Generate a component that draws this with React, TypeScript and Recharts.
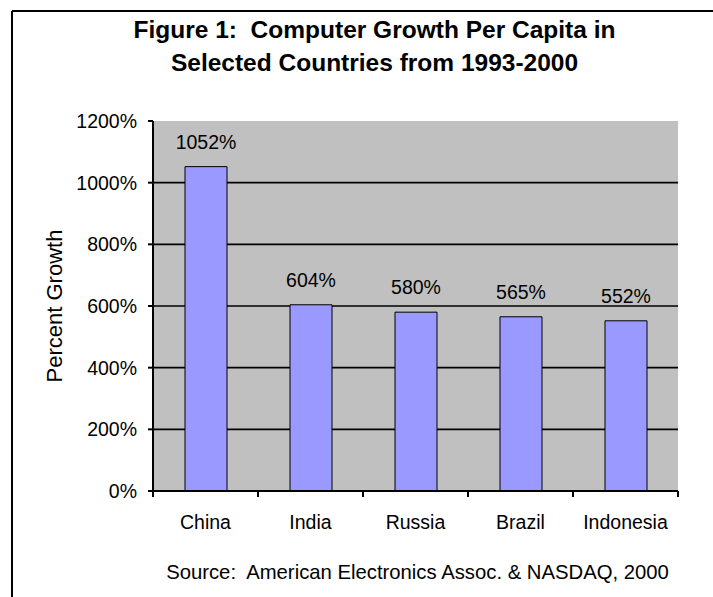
import { BarChart, Bar, XAxis, YAxis, CartesianGrid, LabelList } from 'recharts';

const countries = ['China', 'India', 'Russia', 'Brazil', 'Indonesia'];
const growth = [1052, 604, 580, 565, 552];
const yTicks = [0, 200, 400, 600, 800, 1000, 1200];
const gridValues = [200, 400, 600, 800, 1000];

const titleLines = ['Figure 1:  Computer Growth Per Capita in', 'Selected Countries from 1993-2000'];
const yLabel = 'Percent Growth';
const sourceText = 'Source:  American Electronics Assoc. & NASDAQ, 2000';

const W = 713;
const H = 597;
const FONT = '"Liberation Sans", Arial, Helvetica, sans-serif';
const X_TICK_SIZE = 6;
const X_TICK_MARGIN = 18;
const PLOT_LEFT = 153;
const PLOT_RIGHT = 678;

const data = countries.map((country, i) => ({ country, growth: growth[i] }));

// category labels centred, tick marks on the category boundaries
const CategoryTick = (props: any) => {
  const { x, y, payload, index, visibleTicksCount } = props;
  const half = payload.offset ?? (PLOT_RIGHT - PLOT_LEFT) / countries.length / 2;
  const axisY = y - X_TICK_SIZE - X_TICK_MARGIN;
  const last = index === (visibleTicksCount ?? countries.length) - 1;
  return (
    <g>
      <line x1={x - half} x2={x - half} y1={axisY} y2={axisY + X_TICK_SIZE} stroke="#000" strokeWidth={2} />
      {last && <line x1={x + half} x2={x + half} y1={axisY} y2={axisY + X_TICK_SIZE} stroke="#000" strokeWidth={2} />}
      <text x={x} y={y} dy="0.71em" textAnchor="middle" fontSize={19.5} fill="#000" fontFamily={FONT}>
        {payload.value}
      </text>
    </g>
  );
};

export default function App() {
  return (
    <div style={{ position: 'absolute', left: 0, top: 0, width: W, height: H, background: '#fff', fontFamily: FONT }}>
      <BarChart
        width={W}
        height={H}
        data={data}
        margin={{ top: 121, right: 35, bottom: 76, left: 53 }}
      >
        <CartesianGrid
          vertical={false}
          horizontalValues={gridValues}
          stroke="#000"
          strokeWidth={1.6}
          fill="#C0C0C0"
          fillOpacity={1}
        />
        <Bar dataKey="growth" fill="#9999FF" stroke="#000" strokeWidth={1} barSize={42} isAnimationActive={false}>
          <LabelList
            dataKey="growth"
            position="top"
            offset={18}
            formatter={(v: any) => `${v}%`}
            fill="#000"
            stroke="none"
            fontSize={19.5}
            fontFamily={FONT}
          />
        </Bar>
        <XAxis
          dataKey="country"
          height={30}
          interval={0}
          axisLine={{ stroke: '#000', strokeWidth: 2 }}
          tickLine={false}
          tickSize={X_TICK_SIZE}
          tickMargin={X_TICK_MARGIN}
          tick={<CategoryTick />}
        />
        <XAxis
          xAxisId="top"
          orientation="top"
          dataKey="country"
          height={0}
          tick={false}
          tickLine={false}
          axisLine={{ stroke: '#808080', strokeWidth: 2 }}
        />
        <YAxis
          width={100}
          domain={[0, 1200]}
          ticks={yTicks}
          interval={0}
          tickFormatter={(v: number) => `${v}%`}
          tick={{ fill: '#000', fontSize: 19.5, fontFamily: FONT }}
          tickSize={5}
          tickMargin={11}
          tickLine={{ stroke: '#000', strokeWidth: 2 }}
          axisLine={{ stroke: '#000', strokeWidth: 2 }}
        />
        <YAxis
          yAxisId="right"
          orientation="right"
          width={0}
          domain={[0, 1200]}
          tick={false}
          tickLine={false}
          axisLine={{ stroke: '#808080', strokeWidth: 2 }}
        />
      </BarChart>

      {/* frame, titles and source overlay */}
      <svg
        width={W}
        height={H}
        style={{ position: 'absolute', left: 0, top: 0, pointerEvents: 'none' }}
        fontFamily={FONT}
      >
        <line x1={12} y1={11} x2={W} y2={11} stroke="#000" strokeWidth={2} />
        <line x1={12} y1={11} x2={12} y2={H} stroke="#000" strokeWidth={2} />
        {titleLines.map((t, i) => (
          <text
            key={i}
            x={374.5}
            y={38 + i * 33}
            textAnchor="middle"
            fontSize={24.5}
            fontWeight="bold"
            fill="#000"
            style={{ whiteSpace: 'pre' }}
          >
            {t}
          </text>
        ))}
        <text transform="translate(62,306) rotate(-90)" textAnchor="middle" fontSize={22} fill="#000">
          {yLabel}
        </text>
        <text x={417.5} y={579} textAnchor="middle" fontSize={20.3} fill="#000" style={{ whiteSpace: 'pre' }}>
          {sourceText}
        </text>
      </svg>
    </div>
  );
}
